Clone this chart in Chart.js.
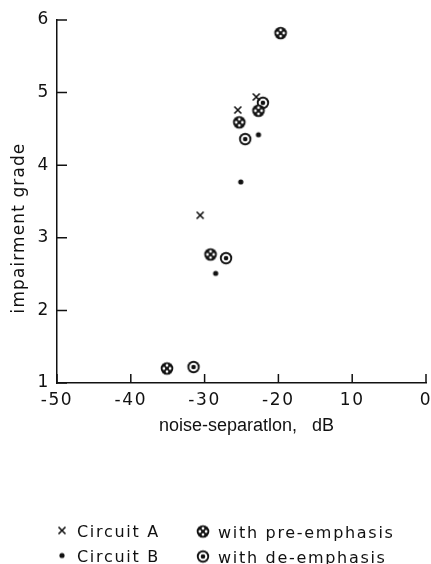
<!DOCTYPE html>
<html>
<head>
<meta charset="utf-8">
<script src="https://cdn.jsdelivr.net/npm/chart.js@4.4.1/dist/chart.umd.min.js"></script>
<style>
html,body{margin:0;padding:0;background:#fff}
canvas{display:block}
</style>
</head>
<body>
<canvas id="chart" width="431" height="564"></canvas>
<script>
// tick values and the labels printed under them (the original prints "10", not "-10")
const xTickValues = [-50, -40, -30, -20, -10, 0];
const xTickLabels = ["-50", "-40", "-30", "-20", "10", "0"];
const yTickValues = [1, 2, 3, 4, 5, 6];

const circuitAX = [-30.6, -25.5, -23.0];
const circuitAY = [3.31, 4.76, 4.94];
const circuitBX = [-28.5, -25.1, -22.7];
const circuitBY = [2.51, 3.77, 4.42];
const preEmphX = [-35.1, -29.2, -25.3, -22.7, -19.7];
const preEmphY = [1.20, 2.77, 4.59, 4.75, 5.82];
const deEmphX = [-31.5, -27.1, -24.5, -22.1];
const deEmphY = [1.22, 2.72, 4.36, 4.86];

const seriesNames = ["Circuit A", "Circuit B", "with pre-emphasis", "with de-emphasis"];
const xTitle = "noise-separatlon,   dB";
const yTitle = "impairment grade";

const ink = "#111";

function makeMarker(kind){
    const c = document.createElement("canvas");
    c.width = 16; c.height = 16;
    const g = c.getContext("2d");
    g.translate(8, 8);
    g.fillStyle = ink;
    g.strokeStyle = ink;
    if(kind === "cross"){
        g.lineWidth = 1.6;
        g.beginPath();
        g.moveTo(-3.5,-3.5); g.lineTo(3.5,3.5);
        g.moveTo(3.5,-3.5); g.lineTo(-3.5,3.5);
        g.stroke();
    } else if(kind === "dot"){
        g.beginPath(); g.arc(0,0,2.6,0,Math.PI*2); g.fill();
    } else if(kind === "pre"){
        g.beginPath(); g.arc(0,0,6.3,0,Math.PI*2); g.fill();
        g.fillStyle = "#fff";
        [[0,-3.1],[3.1,0],[0,3.1],[-3.1,0]].forEach(p=>{
            g.beginPath(); g.arc(p[0],p[1],1.4,0,Math.PI*2); g.fill();
        });
    } else {
        g.beginPath(); g.arc(0,0,6.2,0,Math.PI*2); g.fill();
        g.fillStyle = "#fff";
        g.beginPath(); g.arc(0,0,4.3,0,Math.PI*2); g.fill();
        g.fillStyle = ink;
        g.beginPath(); g.arc(0,0,2.3,0,Math.PI*2); g.fill();
    }
    return c;
}

const markers = [makeMarker("cross"), makeMarker("dot"), makeMarker("pre"), makeMarker("de")];

function pts(xs, ys){
    return xs.map((x,i)=>({x:x, y:ys[i]}));
}

// inside ticks, axis titles and the two-column key
const extras = {
    id: "extras",
    beforeDraw(chart){
        chart.ctx.letterSpacing = "1.6px";
    },
    afterDraw(chart){
        const ctx = chart.ctx;
        const xs = chart.scales.x, ys = chart.scales.y;
        const a = chart.chartArea;
        ctx.save();
        ctx.letterSpacing = "0px";
        ctx.strokeStyle = ink;
        ctx.lineWidth = 1.5;
        ctx.beginPath();
        yTickValues.forEach(v=>{
            const p = ys.getPixelForValue(v);
            ctx.moveTo(a.left, p); ctx.lineTo(a.left + 10, p);
        });
        xTickValues.forEach(v=>{
            const p = xs.getPixelForValue(v);
            ctx.moveTo(p, a.bottom); ctx.lineTo(p, a.bottom - 9);
        });
        ctx.stroke();

        ctx.fillStyle = ink;
        ctx.font = "18px 'Liberation Sans'";
        ctx.textAlign = "left";
        ctx.textBaseline = "alphabetic";
        ctx.fillText(xTitle, 159, 431);

        ctx.save();
        ctx.translate(20, 228);
        ctx.rotate(-Math.PI/2);
        ctx.font = "17px 'DejaVu Sans'";
        ctx.letterSpacing = "1.1px";
        ctx.textAlign = "center";
        ctx.textBaseline = "middle";
        ctx.fillText(yTitle, 0, 0);
        ctx.restore();

        ctx.font = "16px 'DejaVu Sans'";
        ctx.letterSpacing = "1.7px";
        const key = [[62,530.5,77],[62,555.5,77],[203,531.5,218],[203,556.5,218]];
        key.forEach((k,i)=>{
            const m = markers[i];
            ctx.drawImage(m, k[0]-m.width/2, k[1]-m.height/2);
            ctx.fillText(seriesNames[i], k[2], k[1]+6);
        });
        ctx.restore();
    }
};

new Chart(document.getElementById("chart"), {
    type: "scatter",
    data: {
        datasets: [
            {label: seriesNames[0], data: pts(circuitAX, circuitAY), pointStyle: markers[0]},
            {label: seriesNames[1], data: pts(circuitBX, circuitBY), pointStyle: markers[1]},
            {label: seriesNames[2], data: pts(preEmphX, preEmphY), pointStyle: markers[2]},
            {label: seriesNames[3], data: pts(deEmphX, deEmphY), pointStyle: markers[3]}
        ]
    },
    options: {
        responsive: false,
        animation: false,
        layout: {padding: {top: 20, right: 4, bottom: 151, left: 0}},
        plugins: {legend: {display: false}, tooltip: {enabled: false}},
        scales: {
            x: {
                type: "linear", min: -50, max: 0,
                afterBuildTicks: s => { s.ticks = xTickValues.map(v=>({value: v})); },
                afterFit: s => { s.height = 30; s.paddingLeft = 0; s.paddingRight = 0; },
                border: {color: ink, width: 1.5},
                grid: {drawOnChartArea: false, drawTicks: false},
                ticks: {
                    color: ink, padding: 7, maxRotation: 0, autoSkip: false,
                    font: {family: "DejaVu Sans", size: 17},
                    callback: (v, i) => xTickLabels[i]
                }
            },
            y: {
                type: "linear", min: 1, max: 6,
                afterBuildTicks: s => { s.ticks = yTickValues.map(v=>({value: v})); },
                afterFit: s => { s.width = 57; s.paddingTop = 0; s.paddingBottom = 0; },
                border: {color: ink, width: 1.5},
                grid: {drawOnChartArea: false, drawTicks: false},
                ticks: {
                    color: ink, padding: 7,
                    font: {family: "DejaVu Sans", size: 17}
                }
            }
        }
    },
    plugins: [extras]
});
</script>
</body>
</html>
